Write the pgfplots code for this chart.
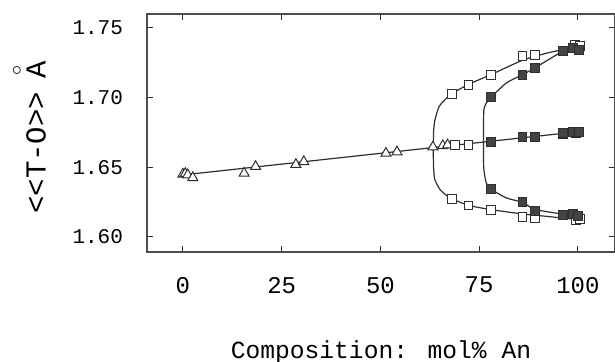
\documentclass[border=0pt]{standalone}
\usepackage{fontspec}
\setmainfont{Liberation Mono}
\usepackage{pgfplots}
\pgfplotsset{compat=1.18}
\definecolor{ink}{HTML}{2E2E2E}
\newcommand{\ringA}{\makebox[0pt][l]{\makebox[0.6em]{\smash{\raisebox{0.82em}{$\scriptstyle\circ$}}}}A}
\begin{document}
\begin{tikzpicture}
\useasboundingbox (-73.5pt,-55pt) rectangle (234pt,126pt);
\begin{axis}[
 scale only axis, width=234pt, height=119pt,
 xmin=-9.1, xmax=109.4, ymin=1.5892, ymax=1.7600,
 xtick={0,25,50,75,100}, ytick={1.60,1.65,1.70,1.75},
 /pgf/number format/assume math mode=true,
 yticklabel style={/pgf/number format/fixed,/pgf/number format/fixed zerofill,/pgf/number format/precision=2, font=\fontsize{10.5}{12}\selectfont, xshift=-8.5pt},
 xticklabel style={font=\fontsize{12}{14}\selectfont, yshift=-9pt},
 tick align=inside, major tick length=3pt,
 axis line style={ink!85, line width=0.7pt},
 tick style={ink, line width=0.5pt},
 xlabel={Composition: mol\% An},
 xlabel style={at={(axis description cs:0.5,-0.42)}, anchor=center, font=\fontsize{12.3}{14}\selectfont},
 ylabel={<{}<{}T-O>{}>\hspace{0.45em}\ringA},
 ylabel style={at={(axis description cs:-0.237,0.481)}, anchor=center, font=\fontsize{14.5}{16}\selectfont},
]
% main line
\addplot[ink, line width=0.6pt] coordinates {(0,1.6445) (100,1.6755)};
% open branch curves
\addplot[ink, line width=0.6pt, smooth, tension=0.4] coordinates {
(63.4,1.6645) (63.45,1.675) (63.8,1.684) (64.9,1.6937) (66.8,1.6998) (68.2,1.7030)
(72.3,1.7095) (78,1.7165) (86,1.7268) (92,1.7318) (96.3,1.7345) (100,1.7365)};
\addplot[ink, line width=0.6pt, smooth, tension=0.4] coordinates {
(63.4,1.6645) (63.4,1.657) (63.5,1.648) (63.8,1.641) (65.1,1.634) (66.8,1.6297) (68.2,1.6273)
(72.3,1.6227) (78,1.6196) (86,1.6165) (92,1.6148) (96.3,1.6135) (100,1.6125)};
% filled branch curves
\addplot[ink, line width=0.6pt, smooth, tension=0.4] coordinates {
(76.1,1.6681) (76.1,1.680) (76.2,1.6913) (76.8,1.696) (78,1.7002) (81.9,1.7105)
(86,1.7165) (89.1,1.7213) (96.3,1.7334) (100,1.736)};
\addplot[ink, line width=0.6pt, smooth, tension=0.4] coordinates {
(76.1,1.6681) (76.1,1.657) (76.2,1.6483) (76.8,1.6388) (78,1.6344) (81.9,1.628)
(86,1.6248) (89.1,1.6198) (96.3,1.6163) (100,1.615)};
% triangles (open)
\addplot[only marks, mark=triangle*, mark size=2.9pt, mark options={fill=white, draw=ink, line width=0.5pt}] coordinates {
(0,1.6450) (0.6,1.6455) (1.2,1.6445) (2.5,1.6425) (15.5,1.6457) (18.4,1.6505)
(28.6,1.6520) (30.6,1.6540) (51.4,1.6600) (54.2,1.6610) (63.3,1.6645)
(65.8,1.6655) (67.0,1.6660)};
% open squares
\addplot[only marks, mark=square*, mark size=2.2pt, mark options={fill=white, draw=ink, line width=0.5pt}] coordinates {
(68.2,1.7026) (72.3,1.7093) (78,1.7165) (86,1.7296) (89.1,1.7308) (99.3,1.7380) (100.5,1.7368)
(68.8,1.6660) (72.3,1.6662) (96.3,1.6735) (99.6,1.6745)
(68.2,1.6273) (72.3,1.6225) (78,1.6196) (86,1.6143) (89.1,1.6136) (99.6,1.6124) (100.5,1.6130)};
% filled squares
\addplot[only marks, mark=square*, mark size=2.2pt, mark options={fill=ink!90, draw=ink, line width=0.5pt}] coordinates {
(78,1.7002) (86,1.7165) (89.1,1.7213) (96.3,1.7337) (98.8,1.7356) (100.3,1.7344)
(78,1.6679) (86,1.6718) (89.1,1.6718) (96.3,1.6745) (98.8,1.6755) (100.3,1.6752)
(78,1.6344) (86,1.6248) (89.1,1.6184) (96.3,1.6160) (98.8,1.6167) (100.1,1.6153)};
\end{axis}
\end{tikzpicture}
\end{document}
